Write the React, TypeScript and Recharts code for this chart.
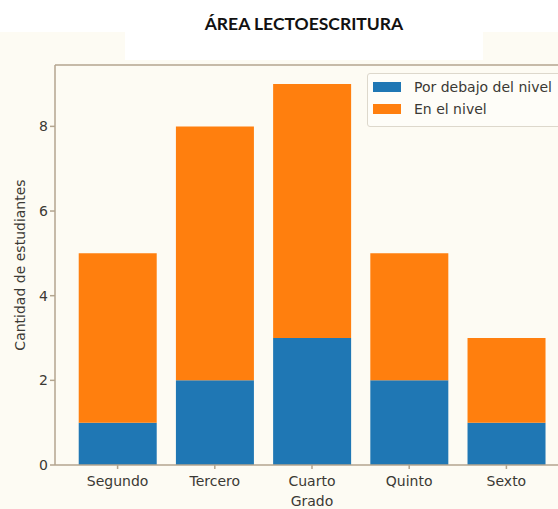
import { Bar, BarChart, ReferenceLine, XAxis, YAxis } from "recharts";

const GRADES = ["Segundo", "Tercero", "Cuarto", "Quinto", "Sexto"];
const BELOW = [1, 2, 3, 2, 1];
const AT_LEVEL = [4, 6, 6, 3, 2];
const Y_TICKS = [0, 2, 4, 6, 8];

const BLUE = "#1f77b4";
const ORANGE = "#ff7f0e";
const SPINE = "#b3a58f";
const TEXT = "#3b3934";
const CREAM = "#fdfbf3";
const FONT = "'DejaVu Sans', sans-serif";

const data = GRADES.map((g, i) => ({ grade: g, below: BELOW[i], level: AT_LEVEL[i] }));

const LEGEND_ITEMS = [
  { label: "Por debajo del nivel", color: BLUE },
  { label: "En el nivel", color: ORANGE },
];

function LegendBox() {
  return (
    <div
      style={{
        position: "absolute",
        left: 367,
        top: 73,
        border: "1px solid #ddd8cc",
        borderRadius: 3,
        background: "#fefdf8",
        padding: "2px 40px 6px 5px",
        fontFamily: FONT,
        fontSize: 14,
        color: TEXT,
      }}
    >
      {LEGEND_ITEMS.map((it) => (
        <div key={it.label} style={{ display: "flex", alignItems: "center", height: 22 }}>
          <span style={{ width: 28, height: 10, background: it.color, marginRight: 13 }} />
          <span style={{ whiteSpace: "nowrap" }}>{it.label}</span>
        </div>
      ))}
    </div>
  );
}

export default function App() {
  const tick = { fontSize: 14, fill: TEXT, fontFamily: FONT };
  return (
    <div style={{ position: "fixed", left: 0, top: 0, width: 558, height: 509, overflow: "hidden", background: CREAM }}>
      <div style={{ position: "absolute", left: 0, top: 0, width: 558, height: 32, background: "#fff" }} />
      <div style={{ position: "absolute", left: 125, top: 0, width: 358, height: 60, background: "#fff" }} />
      <div
        style={{
          position: "absolute",
          left: 0,
          top: 13,
          width: 608,
          textAlign: "center",
          fontFamily: "Lato, sans-serif",
          fontWeight: 700,
          fontSize: 17.5,
          color: "#111",
        }}
      >
        ÁREA LECTOESCRITURA
      </div>
      <div style={{ position: "absolute", left: 0, top: 0 }}>
        <BarChart
          width={600}
          height={509}
          data={data}
          margin={{ top: 65, right: 31, left: 0, bottom: 0 }}
          barCategoryGap="10%"
        >
          <XAxis
            dataKey="grade"
            height={44}
            padding={{ left: 14, right: 14 }}
            stroke={SPINE}
            strokeWidth={1.5}
            tickSize={4}
            tickMargin={7}
            tick={tick}
            label={{ value: "Grado", position: "insideBottom", offset: 3, style: tick }}
          />
          <YAxis
            width={55}
            domain={[0, 9.45]}
            ticks={Y_TICKS}
            stroke={SPINE}
            strokeWidth={1.5}
            tickSize={5}
            tick={tick}
            label={{ value: "Cantidad de estudiantes", angle: -90, position: "insideLeft", offset: 20, style: { ...tick, textAnchor: "middle" } }}
          />
          <ReferenceLine y={9.45} stroke={SPINE} strokeWidth={1.5} />
          <Bar dataKey="below" stackId="a" fill={BLUE} isAnimationActive={false} />
          <Bar dataKey="level" stackId="a" fill={ORANGE} isAnimationActive={false} />
        </BarChart>
      </div>
      <LegendBox />
    </div>
  );
}
